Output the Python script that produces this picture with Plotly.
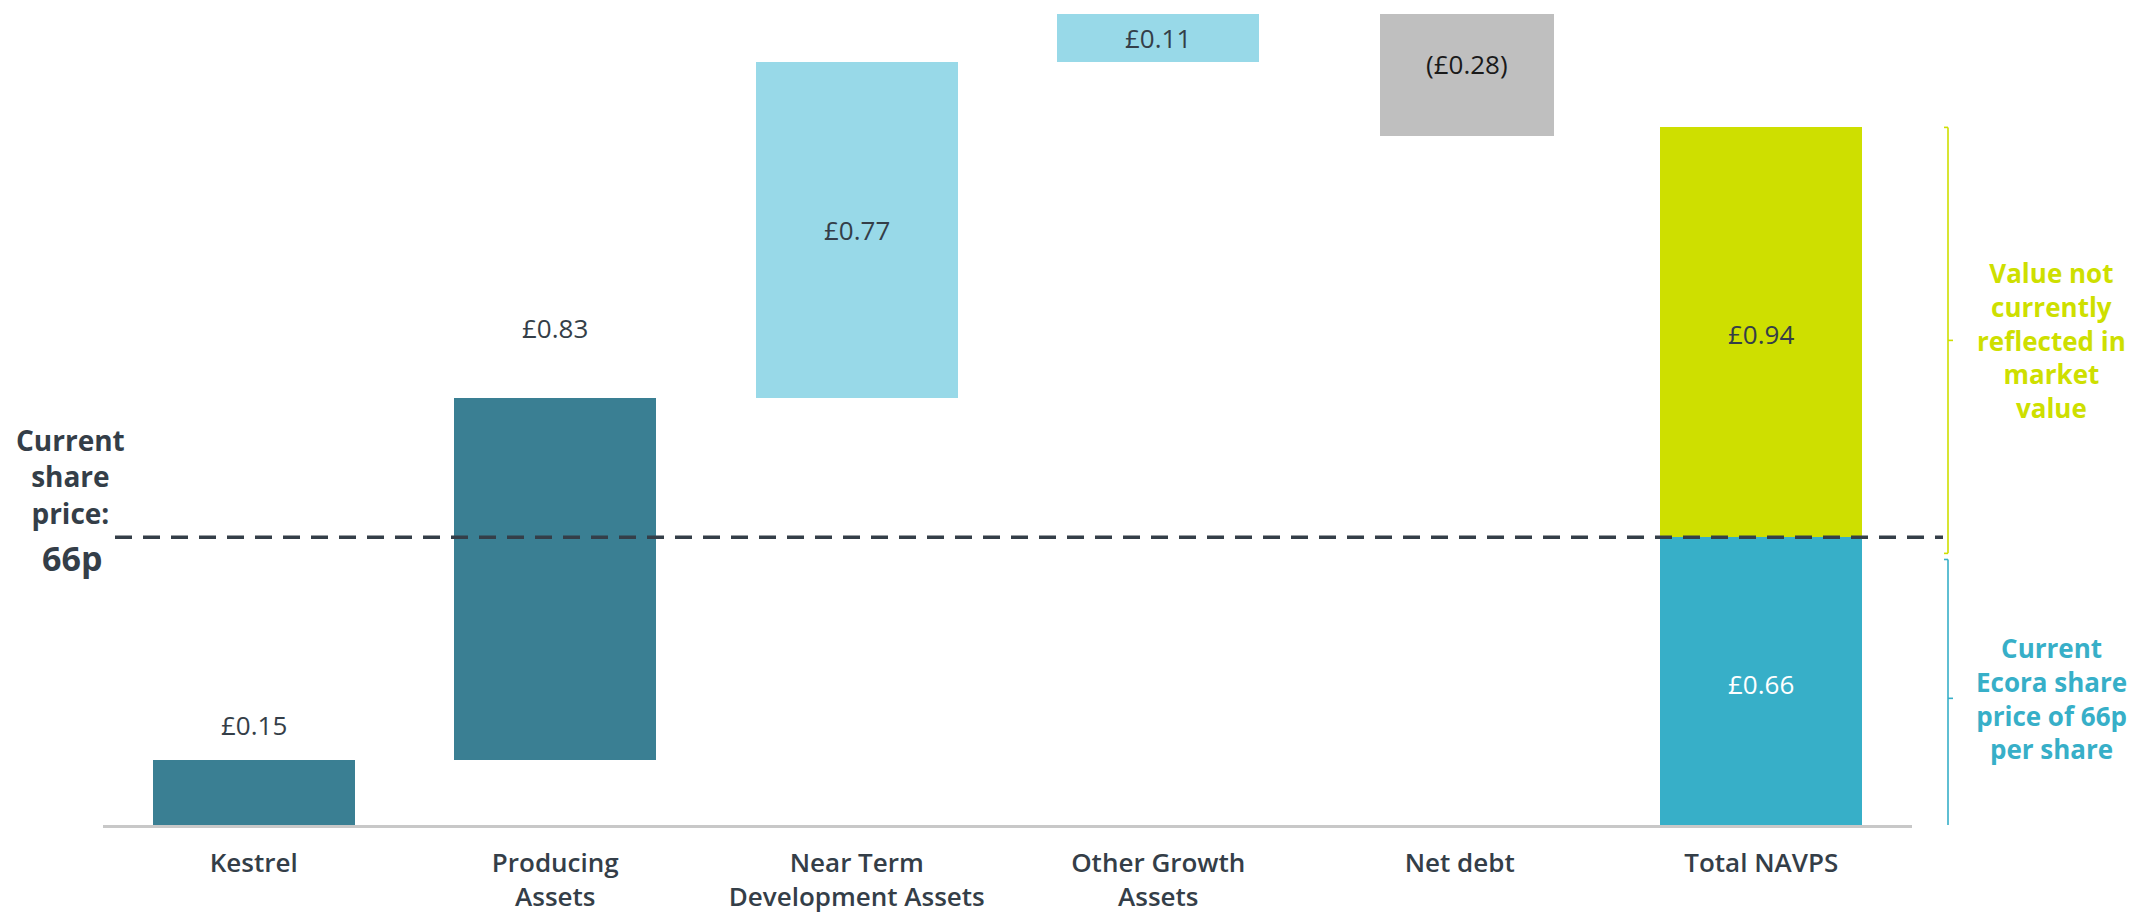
import plotly.graph_objects as go

# ---- data ----
categories = ["Kestrel", "Producing Assets", "Near Term Development Assets",
              "Other Growth Assets", "Net debt", "Total NAVPS"]
tick_labels = ["Kestrel", "Producing<br>Assets", "Near Term<br>Development Assets",
               "Other Growth<br>Assets", "Net debt", "Total NAVPS"]
step_values = [0.15, 0.83, 0.77, 0.11, -0.28]   # £ per share contributions
share_price = 0.66                               # current share price, £
unreflected = 0.94                               # NAVPS above the share price, £

# ---- styling ----
DARK = "#343E48"
TEAL = "#3A7F93"
LIGHT = "#98D9E8"
GREY = "#BFBFBF"
BLUE = "#37AFC8"
LIME = "#CEDF00"
FONT = "Open Sans"

step_colors = [TEAL, TEAL, LIGHT, LIGHT, GREY]
step_widths = [0.67, 0.67, 0.67, 0.67, 0.577]
step_offsets = [-0.335, -0.335, -0.335, -0.335, -0.2635]

# running totals give each floating bar its base
bases = []
running = 0.0
for v in step_values:
    bases.append(running)
    running += v


def money(v):
    s = "£{:.2f}".format(abs(v))
    return "({})".format(s) if v < 0 else s


fig = go.Figure()

fig.add_trace(go.Bar(
    x=categories[:5], y=step_values, base=bases,
    width=step_widths, offset=step_offsets,
    marker=dict(color=step_colors, line=dict(width=0)),
    hoverinfo="skip", showlegend=False,
))
fig.add_trace(go.Bar(
    x=[categories[5]], y=[share_price], base=[0],
    width=0.67, offset=-0.335,
    marker=dict(color=BLUE, line=dict(width=0)),
    hoverinfo="skip", showlegend=False,
))
fig.add_trace(go.Bar(
    x=[categories[5]], y=[unreflected], base=[share_price],
    width=0.67, offset=-0.335,
    marker=dict(color=LIME, line=dict(width=0)),
    hoverinfo="skip", showlegend=False,
))

VAL_SIZE = 26
annotations = []

# value labels for the steps: (placement, vertical shift in px)
label_cfg = [("above", 35), ("above", 70), ("mid", 0), ("mid", 0), ("mid", 11)]
for i, (cat, v, b) in enumerate(zip(categories[:5], step_values, bases)):
    mode, shift = label_cfg[i]
    anchor_y = max(b, b + v) if mode == "above" else b + v / 2
    color = "#1A1A1A" if v < 0 else DARK
    xs = 7 if v < 0 else 0
    annotations.append(dict(x=cat, y=anchor_y, yshift=shift, xshift=xs, text=money(v),
                            showarrow=False, yanchor="middle",
                            font=dict(family=FONT, size=VAL_SIZE, color=color)))

annotations.append(dict(x=categories[5], y=share_price / 2, text=money(share_price),
                        showarrow=False, yanchor="middle", yshift=-3,
                        font=dict(family=FONT, size=VAL_SIZE, color="white")))
annotations.append(dict(x=categories[5], y=share_price + unreflected / 2,
                        text=money(unreflected), showarrow=False, yanchor="middle",
                        yshift=-2,
                        font=dict(family=FONT, size=VAL_SIZE, color=DARK)))

# plot geometry (pixels) used to place the side notes
W, H = 2136, 915
ML, MR, MT, MB = 103, 224, 0, 90
PW = W - ML - MR
PH = H - MT - MB
PX_PER_UNIT = 436
YMAX = PH / PX_PER_UNIT


def xp(px):
    return (px - ML) / PW


def yp(py):
    return (PH - (py - MT)) / PH


# left note: current share price
annotations.append(dict(xref="paper", yref="paper", x=xp(70), y=yp(533),
                        text="Current<br>share<br>price:", borderpad=0,
                        showarrow=False, xanchor="center", yanchor="bottom",
                        align="center",
                        font=dict(family=FONT, size=28, color=DARK, weight="bold")))
annotations.append(dict(xref="paper", yref="paper", x=xp(72), y=yp(534),
                        text="66p", borderpad=0,
                        showarrow=False, xanchor="center", yanchor="top",
                        font=dict(family=FONT, size=34, color=DARK, weight="bold")))

# brackets on the right
total = share_price + unreflected
BX = xp(1948)
HOOK = 4 / PW
TICK = 5 / PW
upper = (total, share_price - 0.037)
lower = (share_price - 0.051, -0.028)
notes = ["Value not<br>currently<br>reflected in<br>market<br>value",
         "Current<br>Ecora share<br>price of 66p<br>per share"]
shapes = []
for (top, bot), col, note in [(upper, LIME, notes[0]), (lower, BLUE, notes[1])]:
    mid = (top + bot) / 2
    ln = dict(color=col, width=1.6)
    shapes += [
        dict(type="line", xref="paper", yref="y", x0=BX, x1=BX, y0=bot, y1=top, line=ln),
        dict(type="line", xref="paper", yref="y", x0=BX - HOOK, x1=BX, y0=top, y1=top, line=ln),
        dict(type="line", xref="paper", yref="y", x0=BX - HOOK, x1=BX, y0=bot, y1=bot, line=ln),
        dict(type="line", xref="paper", yref="y", x0=BX, x1=BX + TICK, y0=mid, y1=mid, line=ln),
    ]
    annotations.append(dict(
        xref="paper", yref="y", x=xp(2051), y=mid, text=note,
        showarrow=False, xanchor="center", yanchor="middle", align="center",
        font=dict(family=FONT, size=26, color=col, weight="bold")))

# dashed share-price line
shapes.append(dict(type="line", xref="paper", yref="y", x0=xp(115), x1=xp(1943),
                   y0=share_price, y1=share_price,
                   line=dict(color=DARK, width=3.5, dash="17px,11px"), layer="above"))

fig.update_layout(
    width=W, height=H,
    margin=dict(l=ML, r=MR, t=MT, b=MB),
    paper_bgcolor="white", plot_bgcolor="white",
    barmode="overlay", bargap=0,
    font=dict(family=FONT, color=DARK),
    shapes=shapes, annotations=annotations,
    xaxis=dict(type="category", categoryorder="array", categoryarray=categories,
               range=[-0.5, 5.5], tickvals=categories, ticktext=tick_labels,
               showline=True, linecolor="#C8C8C8", linewidth=2.5,
               showgrid=False, zeroline=False, ticks="",
               tickfont=dict(family=FONT, size=26, color=DARK, weight=600),
               ticklabelstandoff=13, fixedrange=True),
    yaxis=dict(range=[0, YMAX], visible=False, showgrid=False, zeroline=False,
               fixedrange=True),
)

fig.write_html("out.html", config={"displayModeBar": False})
